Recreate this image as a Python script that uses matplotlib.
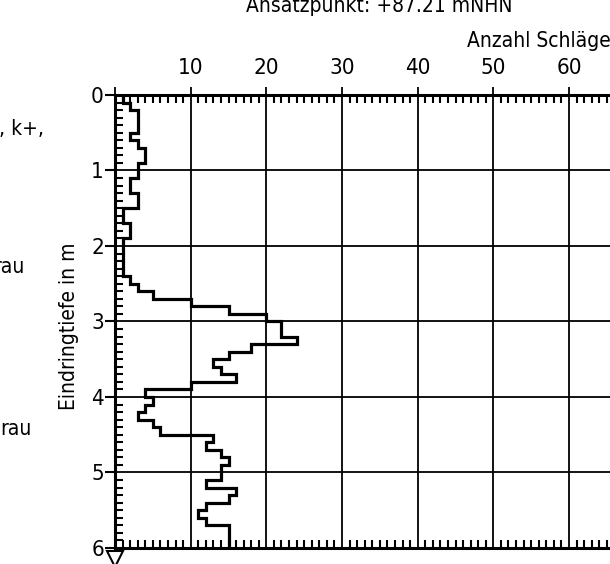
import matplotlib
matplotlib.use("Agg")
import matplotlib.pyplot as plt
import numpy as np

# blows per 0.1 m, from 0.0 m down to 6.0 m
depth_step = 0.1
blows = [1, 2, 3, 3, 3, 2, 3, 4, 4, 3,
         3, 2, 2, 3, 3, 1, 1, 2, 2, 1,
         1, 1, 1, 1, 2, 3, 5, 10, 15, 20,
         22, 22, 24, 18, 15, 13, 14, 16, 10, 4,
         5, 4, 3, 5, 6, 13, 12, 14, 15, 14,
         14, 12, 16, 15, 12, 11, 12, 15, 15, 15]
x_ticks = [0, 10, 20, 30, 40, 50, 60]
x_labels = ["", "10", "20", "30", "40", "50", "60"]
y_ticks = [0, 1, 2, 3, 4, 5, 6]

title = "Ansatzpunkt: +87.21 mNHN"
x_title = "Anzahl Schläge"
y_title = "Eindringtiefe in m"
side_notes = [(", k+,", 44, 135), ("rau", 25, 273), ("rau", 32, 435)]

plt.rcParams["font.family"] = ["DejaVu Sans"]
plt.rcParams["font.stretch"] = "condensed"
FS = 15
TFS = 16

W, H = 610, 564
fig = plt.figure(figsize=(W / 100, H / 100), dpi=100)
ax = fig.add_axes([115 / W, 16 / H, (W - 115) / W, 453 / H])

edges = np.arange(len(blows) + 1) * depth_step
ax.stairs(blows, edges, orientation="horizontal", baseline=None,
          color="black", lw=2.3, zorder=3)

ax.set_xlim(0, (W - 115) / 7.567)
ax.set_ylim(6, 0)

for v in x_ticks[1:]:
    ax.axvline(v, color="black", lw=1.3, zorder=1)
for v in y_ticks[1:-1]:
    ax.axhline(v, color="black", lw=1.3, zorder=1)

for side in ["top", "left", "bottom"]:
    ax.spines[side].set_linewidth(2.2)
ax.spines["right"].set_visible(False)

ax.set_xticks(x_ticks)
ax.set_xticklabels(x_labels)
ax.set_xticks(np.arange(1, 66), minor=True)
ax.set_yticks(y_ticks)
ax.set_yticks(np.arange(0, 6.01, 0.1), minor=True)

ax.tick_params(axis="x", which="major", top=True, bottom=False,
               labeltop=True, labelbottom=False, direction="out",
               length=6, width=1.3, pad=6, labelsize=TFS)
ax.tick_params(axis="x", which="minor", top=True, bottom=True,
               direction="in", length=5.5, width=1.5)
ax.tick_params(axis="y", which="major", left=True, direction="out",
               length=7, width=1.5, pad=1, labelsize=TFS)
ax.tick_params(axis="y", which="minor", left=True, direction="in",
               length=5.5, width=1.5)

# marker below the profile
ax.plot([0], [6 + 11 / 75.5], marker="v", ms=11, mfc="white", mec="black",
        mew=1.5, clip_on=False, zorder=4)

fig.text(379 / W, 1 - 12.5 / H, title, ha="center", va="baseline", fontsize=FS)
fig.text(467 / W, 1 - 47 / H, x_title, ha="left", va="baseline", fontsize=FS)
fig.text(69 / W, 1 - 326 / H, y_title, ha="center", va="center",
         rotation=90, fontsize=FS)
for txt, xr, yb in side_notes:
    fig.text(xr / W, 1 - yb / H, txt, ha="right", va="baseline", fontsize=FS)

fig.savefig("out.png", dpi=100)
